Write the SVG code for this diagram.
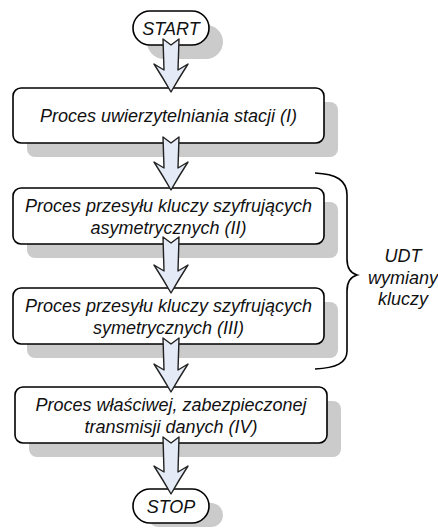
<svg xmlns="http://www.w3.org/2000/svg" width="438" height="529" viewBox="0 0 438 529">
<style>
.shadow{fill:#cbcbcb;stroke:none}
.box{fill:#ffffff;stroke:#000000;stroke-width:1.6}
.txt{font-family:"Liberation Sans",Arial,sans-serif;font-style:italic;font-size:18px;fill:#111111;text-anchor:middle}
.arrow{fill:#e4ebf7;stroke:#222222;stroke-width:1.4;stroke-linejoin:round}
.brace{fill:none;stroke:#000000;stroke-width:1.6}
</style>
<rect width="438" height="529" fill="#ffffff"/>
<g id="start">
<rect class="shadow" x="147" y="25" width="76" height="34" rx="17"/>
<rect class="box" x="133" y="11" width="76" height="34" rx="17"/>
<text class="txt" x="171" y="34.5">START</text>
</g>
<g id="p1">
<rect class="shadow" x="27" y="102" width="311" height="55" rx="8"/>
<rect class="box" x="13" y="88" width="311" height="55" rx="8"/>
<text class="txt" x="168.5" y="122">Proces uwierzytelniania stacji (I)</text>
</g>
<g id="p2">
<rect class="shadow" x="27" y="202" width="311" height="56" rx="8"/>
<rect class="box" x="13" y="188" width="311" height="56" rx="8"/>
<text class="txt" x="168.5" y="212">Proces przesyłu kluczy szyfrujących</text>
<text class="txt" x="168.5" y="234">asymetrycznych (II)</text>
</g>
<g id="p3">
<rect class="shadow" x="27" y="302" width="311" height="56" rx="8"/>
<rect class="box" x="13" y="288" width="311" height="56" rx="8"/>
<text class="txt" x="168.5" y="312">Proces przesyłu kluczy szyfrujących</text>
<text class="txt" x="168.5" y="334">symetrycznych (III)</text>
</g>
<g id="p4">
<rect class="shadow" x="29" y="401" width="312" height="56" rx="8"/>
<rect class="box" x="15" y="387" width="312" height="56" rx="8"/>
<text class="txt" x="171" y="411">Proces właściwej, zabezpieczonej</text>
<text class="txt" x="171" y="433">transmisji danych (IV)</text>
</g>
<g id="stop">
<rect class="shadow" x="147" y="503" width="76" height="24" rx="12"/>
<rect class="box" x="133" y="489" width="76" height="34" rx="17"/>
<text class="txt" x="171" y="512.5">STOP</text>
</g>
<g id="udt">
<path class="brace" d="M315,173 C336,174 347,180 347,195 L347,259 C347,268 350,273 357,275 C350,277 347,282 347,291 L347,351 C347,363 336,368 315,369"/>
<text class="txt" x="403" y="262">UDT</text>
<text class="txt" x="403" y="283.5">wymiany</text>
<text class="txt" x="403" y="305">kluczy</text>
</g>
<g id="connectors">
<path class="arrow" d="M163,39 L171,45 L179,39 L178,70 L188,64 Q179,78 171,92 Q163,78 154,64 L164,70 Z"/>
<path class="arrow" d="M163,137 L171,143 L179,137 L178,168 L188,162 Q179,176 171,190 Q163,176 154,162 L164,168 Z"/>
<path class="arrow" d="M163,237 L171,243 L179,237 L178,271 L188,265 Q179,279 171,293 Q163,279 154,265 L164,271 Z"/>
<path class="arrow" d="M163,338 L171,344 L179,338 L178,370 L188,364 Q179,378 171,392 Q163,378 154,364 L164,370 Z"/>
<path class="arrow" d="M163,437 L171,443 L179,437 L178,472 L188,466 Q179,480 171,494 Q163,480 154,466 L164,472 Z"/>
</g>
</svg>
